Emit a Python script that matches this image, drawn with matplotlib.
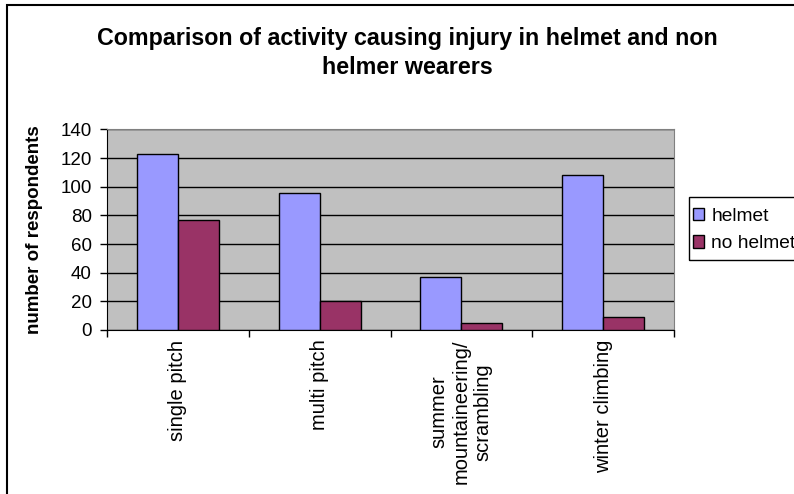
import matplotlib
matplotlib.use('Agg')
import matplotlib.pyplot as plt
import numpy as np
from matplotlib.patches import Rectangle

plt.rcParams['font.family'] = ['Liberation Sans', 'DejaVu Sans']

activities = ['single pitch', 'multi pitch', 'summer\nmountaineering/\nscrambling', 'winter climbing']
helmet = [123, 96, 37, 108]
no_helmet = [77, 20, 5, 9]

W, H = 794, 494
fig = plt.figure(figsize=(W / 100, H / 100), dpi=100)
ax = fig.add_axes([107 / W, 1 - 330 / H, (674 - 107) / W, (330 - 129.5) / H])

x = np.arange(len(activities))
bw = 0.29
ax.bar(x - bw / 2, helmet, bw, color='#9999FF', edgecolor='black', linewidth=1, label='helmet', zorder=3)
ax.bar(x + bw / 2, no_helmet, bw, color='#993366', edgecolor='black', linewidth=1, label='no helmet', zorder=3)

ax.set_facecolor('#C0C0C0')
ax.set_xlim(-0.5, len(activities) - 0.5)
ax.set_ylim(0, 140)
ax.set_yticks(range(0, 141, 20))
ax.tick_params(axis='y', labelsize=13.5, length=5, width=1, pad=6)
ax.grid(axis='y', color='black', linewidth=1, zorder=1)
ax.set_axisbelow(True)

# category labels at centres, tick marks between categories
ax.set_xticks(x)
ax.set_xticklabels(activities, rotation=90, fontsize=14.5, va='top', ha='center', multialignment='center')
ax.tick_params(axis='x', which='major', length=0, pad=7)
ax.set_xticks(np.arange(-0.5, len(activities)), minor=True)
ax.tick_params(axis='x', which='minor', length=5, width=1)

for side in ['top', 'right']:
    ax.spines[side].set_color('#808080')
for side in ['left', 'bottom']:
    ax.spines[side].set_color('black')

ax.set_ylabel('number of respondents', fontsize=13.5, fontweight='bold')
ax.yaxis.set_label_coords((43 - 107) / 567, 0.5)

fig.text(407 / W, 1 - 53 / H, 'Comparison of activity causing injury in helmet and non\nhelmer wearers',
         ha='center', va='center', fontsize=16.75, fontweight='bold', linespacing=1.35)

leg = fig.legend(loc='center left', bbox_to_anchor=(693 / W, 1 - 230 / H), fontsize=13.75,
                 frameon=False, handlelength=0.6, handleheight=0.6, handletextpad=0.35,
                 labelspacing=0.55, borderpad=0, borderaxespad=0)

# legend box runs past the right edge
fig.patches.append(Rectangle((689 / W, 1 - 260 / H), 0.2, 63 / H, transform=fig.transFigure,
                             fill=False, edgecolor='black', linewidth=1))

# outer chart border
fig.patches.append(Rectangle((7 / W, -0.1), 1.2, 1.1 - 5.5 / H, transform=fig.transFigure,
                             fill=False, edgecolor='black', linewidth=1.5))

fig.savefig('out.png', dpi=100)
